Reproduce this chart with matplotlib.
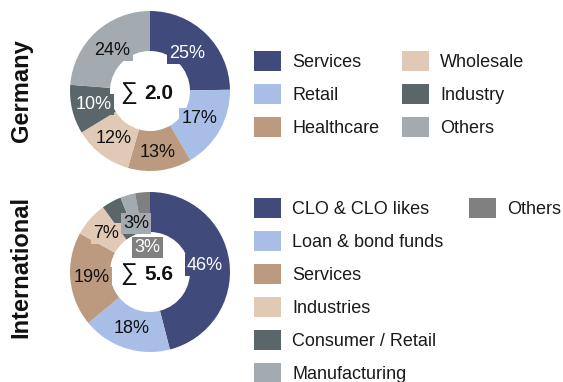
import matplotlib
matplotlib.use("Agg")
import numpy as np
import matplotlib.pyplot as plt
from matplotlib.patches import Rectangle

plt.rcParams['font.family'] = ['Liberation Sans', 'DejaVu Sans']

# Germany portfolio split
de_labels = ['Services', 'Retail', 'Healthcare', 'Wholesale', 'Industry', 'Others']
de_shares = [25, 17, 13, 12, 10, 24]
de_total = '2.0'

# International portfolio split
int_labels = ['CLO & CLO likes', 'Loan & bond funds', 'Services', 'Industries',
              'Consumer / Retail', 'Manufacturing', 'Others']
int_shares = [46, 18, 19, 7, 4, 3, 3]
int_total = '5.6'

de_colors = ['#414B7B', '#A9BEE6', '#BC9A7F', '#E0CAB6', '#5B666B', '#A3AAB0']
int_colors = ['#414B7B', '#A9BEE6', '#BC9A7F', '#E0CAB6', '#5B666B', '#A3AAB0', '#808080']
dark = {'#414B7B', '#5B666B', '#808080'}

# where each percentage sits (fraction of radius), None = no label
de_lab_r = [0.66, 0.71, 0.78, 0.74, 0.72, 0.69]
int_lab_r = [0.69, 0.74, 0.73, 0.73, None, 0.63, 0.31]

W, H = 563, 382
fig = plt.figure(figsize=(W / 100, H / 100), dpi=100)


def donut(cx, cy, r, shares, colors, lab_r, total):
    ax = fig.add_axes([(cx - r) / W, (H - cy - r) / H, 2 * r / W, 2 * r / H])
    wedges, _ = ax.pie(shares, colors=colors, startangle=90, counterclock=False,
                       wedgeprops=dict(width=0.5, linewidth=0))
    for w, val, c, lr in zip(wedges, shares, colors, lab_r):
        if lr is None:
            continue
        ang = np.deg2rad((w.theta1 + w.theta2) / 2)
        ax.text(lr * np.cos(ang), lr * np.sin(ang), f'{val}%', ha='center', va='center',
                fontsize=13, color='white' if c in dark else '#111111',
                bbox=dict(boxstyle='square,pad=0.12', fc=c, ec='none'))
    ax.text(-0.16, -0.03, '\u2211', ha='right', va='center', fontsize=17, color='#111111')
    ax.text(-0.07, -0.03, total, ha='left', va='center', fontsize=15,
            fontweight='bold', color='#111111')
    ax.set_xlim(-1, 1)
    ax.set_ylim(-1, 1)
    return ax


donut(150, 91, 80, de_shares, de_colors, de_lab_r, de_total)
donut(150, 272, 80, int_shares, int_colors, int_lab_r, int_total)

# overlay in pixel coordinates for legends and row titles
ov = fig.add_axes([0, 0, 1, 1])
ov.set_xlim(0, W)
ov.set_ylim(H, 0)
ov.axis('off')
ov.patch.set_alpha(0)


def legend_block(entries, x0, y0):
    for i, (lab, col) in enumerate(entries):
        y = y0 + 33 * i
        ov.add_patch(Rectangle((x0, y - 10), 27, 20, fc=col, ec='none', clip_on=False))
        ov.text(x0 + 38, y + 1.5, lab, ha='left', va='center', fontsize=13, color='#1a1a1a')


legend_block(list(zip(de_labels[:3], de_colors[:3])), 254, 61)
legend_block(list(zip(de_labels[3:], de_colors[3:])), 402, 61)
legend_block(list(zip(int_labels[:6], int_colors[:6])), 254, 208)
legend_block(list(zip(int_labels[6:], int_colors[6:])), 469, 208)

ov.text(21, 91, 'Germany', rotation=90, ha='center', va='center',
        fontsize=17, fontweight='bold', color='#111111')
ov.text(21, 267, 'International', rotation=90, ha='center', va='center',
        fontsize=17, fontweight='bold', color='#111111')

fig.savefig('out.png', dpi=100)
